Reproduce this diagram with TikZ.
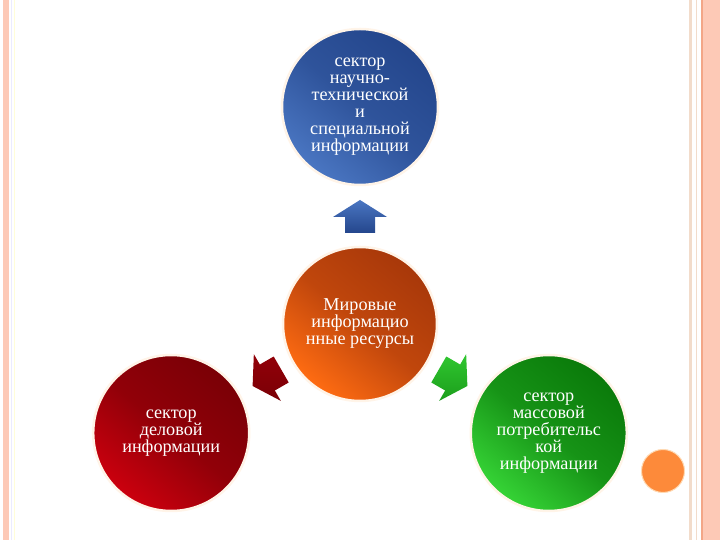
\documentclass[tikz,border=0pt]{standalone}
\usepackage{fontspec}
\setmainfont{Liberation Serif}
\usetikzlibrary{positioning, calc}
\definecolor{sciencedark}{HTML}{24468C}
\definecolor{sciencelight}{HTML}{4A76C2}
\definecolor{coredark}{HTML}{A8380A}
\definecolor{corelight}{HTML}{FF6C12}
\definecolor{businessdark}{HTML}{7A0006}
\definecolor{businesslight}{HTML}{CC000E}
\definecolor{consumerdark}{HTML}{0A7A0A}
\definecolor{consumerlight}{HTML}{36D436}
\definecolor{dotorange}{HTML}{FD8A3A}
\definecolor{framesalmon}{HTML}{FDC9B6}
\definecolor{frameline}{HTML}{F3A687}
\definecolor{framepale}{HTML}{F2DCCB}
\definecolor{glow}{HTML}{FFF4E8}

\begin{document}
\begin{tikzpicture}[x=1pt, y=1pt,
        sector/.style={circle, minimum size=156pt, inner sep=0pt, align=center,
                       text=white, draw=glow, line width=2.5pt,
                       font=\fontsize{18.2}{17}\selectfont},
        lit/.style 2 args={top color=#1, bottom color=#2,
                           middle color=#1!72!#2, shading angle=-40}]
        \useasboundingbox (0,0) rectangle (720,540);
        \fill[white] (0,0) rectangle (720,540);
        % slide frame
        \fill[framesalmon] (3,0) rectangle (9,540);
        \draw[blue!8, line width=0.8pt] (11.5,0) -- (11.5,540);
        \draw[yellow!15, line width=0.8pt] (14,0) -- (14,540);
        \fill[framepale] (689,0) rectangle (692,540);
        \draw[framepale, line width=0.8pt] (696.5,0) -- (696.5,540);
        \fill[frameline] (701,0) rectangle (703,540);
        \fill[framesalmon] (703,0) rectangle (720,540);
        % circles
        \node[sector, minimum size=154pt, lit={coredark}{corelight}]
            (core) at (360,216) {Мировые\\информацио\\нные ресурсы};
        \node[sector, lit={sciencedark}{sciencelight}]
            (science) at ([shift={(90:217)}]core.center)
            {сектор\\научно-\\технической\\и\\специальной\\информации};
        \node[sector, lit={businessdark}{businesslight}]
            (business) at ([shift={(210:218)}]core.center)
            {сектор\\деловой\\информации};
        \node[sector, lit={consumerdark}{consumerlight}]
            (consumer) at ([shift={(330:218)}]core.center)
            {сектор\\массовой\\потребительс\\кой\\информации};
        % arrows out of the core
        \foreach \ang/\lo/\hi in {90/sciencedark/sciencelight,
                                  210/businessdark/businessdark!70!businesslight,
                                  330/consumerdark!60!consumerlight/consumerlight!85!consumerdark} {
            \begin{scope}[shift={(core.center)}, rotate=\ang-90]
                \shade[top color=\hi, bottom color=\lo]
                    (0,124) -- (27,107) -- (15,107) -- (15,91) --
                    (-15,91) -- (-15,107) -- (-27,107) -- cycle;
            \end{scope}
        }
        \node[circle, minimum size=43pt, inner sep=0pt, fill=dotorange,
              draw=orange!30, line width=1pt] (dot) at (663,69) {};
    \end{tikzpicture}
\end{document}
